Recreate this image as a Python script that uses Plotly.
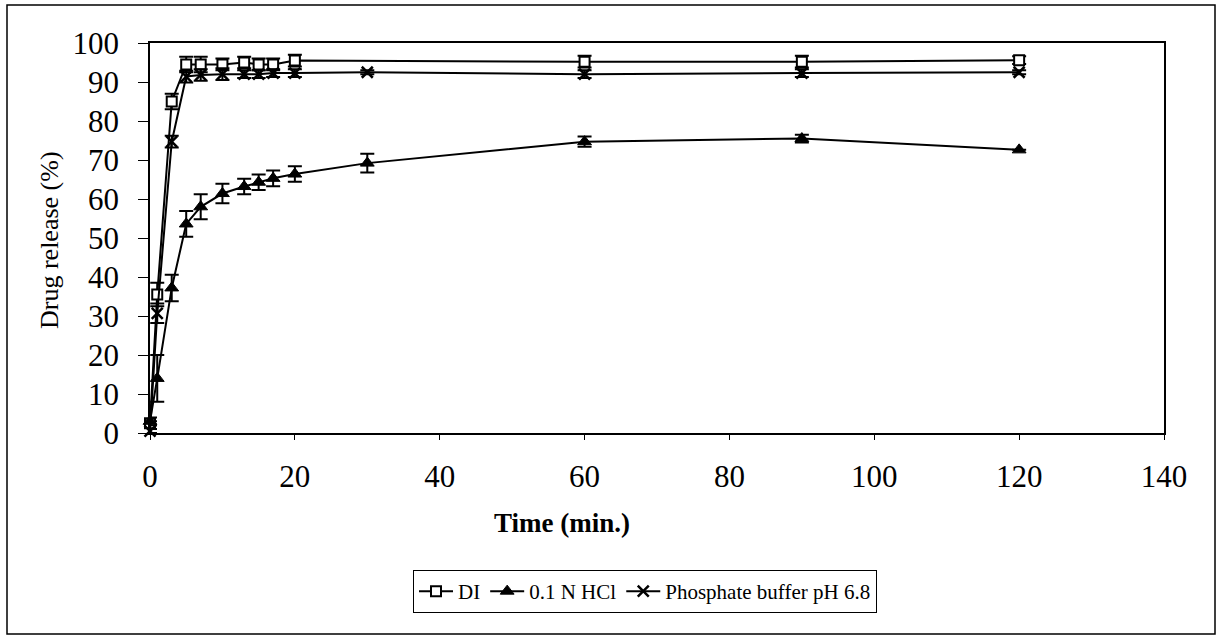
import plotly.graph_objects as go

# Data
time_di = [0, 1, 3, 5, 7, 10, 13, 15, 17, 20, 60, 90, 120]
release_di = [2.5, 35.5, 85.0, 94.5, 94.5, 94.5, 95.0, 94.5, 94.5, 95.5, 95.2, 95.2, 95.6]
err_di = [0.5, 3.0, 2.0, 2.0, 2.0, 1.5, 1.5, 1.5, 1.5, 1.5, 1.5, 1.5, 1.0]

time_hcl = [0, 1, 3, 5, 7, 10, 13, 15, 17, 20, 30, 60, 90, 120]
release_hcl = [3.0, 14.0, 37.2, 53.6, 58.0, 61.4, 63.2, 64.3, 65.3, 66.4, 69.2, 74.7, 75.5, 72.6]
err_hcl = [1.0, 6.0, 3.4, 3.3, 3.2, 2.5, 2.0, 2.0, 2.0, 2.0, 2.4, 1.3, 1.0, 0.0]

time_pb = [0, 1, 3, 5, 7, 10, 13, 15, 17, 20, 30, 60, 90, 120]
release_pb = [0.5, 30.7, 74.7, 91.4, 91.8, 92.0, 92.0, 92.0, 92.3, 92.3, 92.5, 92.0, 92.3, 92.5]
err_pb = [0.5, 2.5, 1.5, 1.5, 1.5, 1.5, 1.0, 1.0, 1.0, 1.0, 0.5, 1.0, 1.0, 0.5]

x_ticks = [0, 20, 40, 60, 80, 100, 120, 140]
y_ticks = [0, 10, 20, 30, 40, 50, 60, 70, 80, 90, 100]

FONT = "Liberation Serif, Times New Roman, serif"

fig = go.Figure()

err_style = dict(type="data", visible=True, color="black", thickness=2, width=7)

fig.add_trace(go.Scatter(
    x=time_di, y=release_di, name="DI", mode="lines+markers",
    line=dict(color="black", width=2),
    marker=dict(symbol="square", size=10, color="white", line=dict(color="black", width=2)),
    error_y=dict(array=err_di, **err_style),
    cliponaxis=False,
))
fig.add_trace(go.Scatter(
    x=time_hcl, y=release_hcl, name="0.1 N HCl", mode="lines+markers",
    line=dict(color="black", width=2),
    marker=dict(symbol="triangle-up", size=12, color="black", line=dict(color="black", width=1)),
    error_y=dict(array=err_hcl, **err_style),
    cliponaxis=False,
))
fig.add_trace(go.Scatter(
    x=time_pb, y=release_pb, name="Phosphate buffer pH 6.8", mode="lines+markers",
    line=dict(color="black", width=2),
    marker=dict(symbol="x-thin", size=11, color="black", line=dict(color="black", width=2.5)),
    error_y=dict(array=err_pb, **err_style),
    cliponaxis=False,
))

L, R, T, B = 150, 56, 43, 202
W, H = 1220, 635
pw, ph = W - L - R, H - T - B

def px(xp):
    return (xp - L) / pw

def py(yp):
    return (H - B - yp) / ph

fig.update_layout(
    width=W, height=H,
    margin=dict(l=L, r=R, t=T, b=B, pad=0),
    paper_bgcolor="white", plot_bgcolor="white",
    font=dict(family=FONT, color="black", size=22),
    showlegend=True,
    legend=dict(
        orientation="h", x=px(645), xanchor="center", y=py(570), yanchor="top",
        bordercolor="black", borderwidth=1, bgcolor="white",
        font=dict(family=FONT, size=21, color="black"),
        itemwidth=34, tracegroupgap=0,
    ),
    xaxis=dict(
        range=[0, 140], tickvals=x_ticks, ticktext=[str(v) for v in x_ticks],
        showline=True, linecolor="black", linewidth=1.5, mirror=True,
        ticks="outside", ticklen=5, tickcolor="black", tickwidth=1,
        showgrid=False, zeroline=False, ticklabelstandoff=10,
        tickfont=dict(family=FONT, size=31, color="black"),
    ),
    yaxis=dict(
        range=[0, 100], tickvals=y_ticks, ticktext=[str(v) for v in y_ticks],
        showline=True, linecolor="black", linewidth=1.5, mirror=True,
        ticks="outside", ticklen=10, tickcolor="black", tickwidth=1,
        showgrid=False, zeroline=False, ticklabelstandoff=13,
        tickfont=dict(family=FONT, size=31, color="black"),
    ),
    annotations=[
        dict(text="<b>Time (min.)</b>", xref="paper", yref="paper",
             x=px(562), y=py(523), xanchor="center", yanchor="middle", showarrow=False,
             font=dict(family=FONT, size=27, color="black")),
        dict(text="Drug release (%)", xref="paper", yref="paper", textangle=-90,
             x=px(49), y=py(240), xanchor="center", yanchor="middle", showarrow=False,
             font=dict(family=FONT, size=26, color="black")),
    ],
    shapes=[dict(
        type="rect", xref="paper", yref="paper",
        x0=px(7), x1=px(1215), y0=py(634), y1=py(5),
        line=dict(color="black", width=1.5), fillcolor="rgba(0,0,0,0)", layer="below",
    )],
)

fig.write_html("out.html")
